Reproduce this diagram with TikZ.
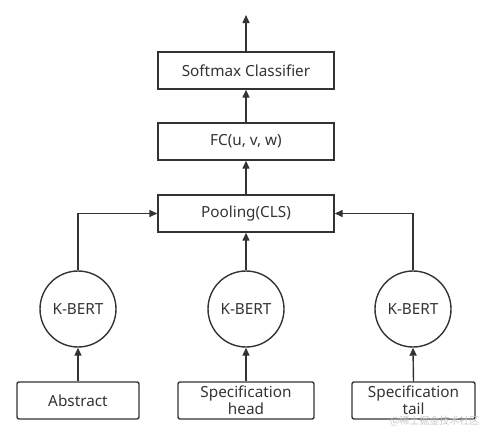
\documentclass[tikz,border=0pt]{standalone}
\usepackage{fontspec}
\setmainfont{Noto Sans}
\newfontfamily\cjk{Noto Sans CJK SC}
\usetikzlibrary{arrows.meta}
\definecolor{ln}{HTML}{333333}
\begin{document}
\begin{tikzpicture}[x=1pt,y=-1pt,
  box/.style={draw=ln,line width=1.4pt,minimum width=176pt,minimum height=37pt,inner sep=0pt,font=\fontsize{15.3}{17}\selectfont,text=ln},
  inbox/.style={draw=ln,line width=1.4pt,rounded corners=2pt,minimum width=122pt,minimum height=37pt,inner sep=0pt,align=center,font=\fontsize{15.3}{17}\selectfont,text=ln},
  bert/.style={draw=ln,line width=1.4pt,circle,minimum size=76pt,inner sep=0pt,font=\fontsize{15.3}{17}\selectfont,text=ln},
  arr/.style={draw=ln,line width=1.4pt,-{Triangle[length=8pt,width=7pt]}}]
\useasboundingbox (0,0) rectangle (495,437);
\node[box] (soft) at (246,70.5) {Softmax Classifier};
\node[box] (fc) at (246,141.5) {FC(u, v, w)};
\node[box] (pool) at (246,213.5) {Pooling(CLS)};
\node[bert] (b1) at (78,309) {K-BERT};
\node[bert] (b2) at (246,309) {K-BERT};
\node[bert] (b3) at (413,309) {K-BERT};
\node[inbox] (abs) at (78,400.5) {Abstract};
\node[inbox,minimum width=136pt] (head) at (246,400.5) {Specification\\head};
\node[inbox,minimum width=123pt] (tail) at (413.5,400.5) {Specification\\tail};
\coordinate (out) at (246,15);
\draw[arr] (soft.north) -- (out);
\draw[arr] (fc.north) -- (soft.south);
\draw[arr] (pool.north) -- (fc.south);
\draw[arr] (b2.north) -- (pool.south);
\draw[arr] (b1.north) |- (pool.west);
\draw[arr] (b3.north) |- (pool.east);
\draw[arr] (abs.north) -- (b1.south);
\draw[arr] (head.north) -- (b2.south);
\draw[arr] (tail.north) -- (b3.south);
\node[font=\cjk\fontsize{10}{12}\selectfont,text=black!22,anchor=east] (wm) at (483,421) {@稀土掘金技术社区};
\end{tikzpicture}
\end{document}
